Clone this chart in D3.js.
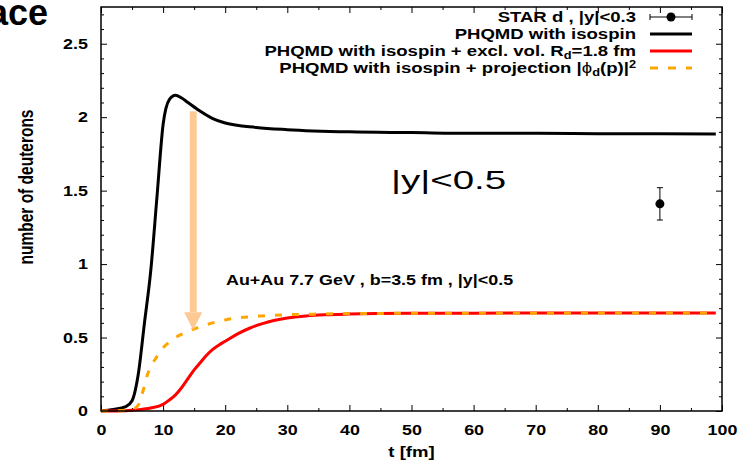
<!DOCTYPE html>
<html>
<head>
<meta charset="utf-8">
<script src="https://cdn.jsdelivr.net/npm/d3@7"></script>
<style>
  body { margin: 0; background: #fff; }
  svg { display: block; }
  text { font-family: "Liberation Sans", Arial, sans-serif; }
</style>
</head>
<body>
<svg id="chart" width="746" height="462"></svg>
<script>
// data
const tBlack = [0, 2, 4, 5, 6, 7, 8, 9, 10, 11, 12, 13, 14, 16, 18, 20, 25, 30, 40, 50, 60, 70, 80, 90, 99];
const nBlack = [0, 0.01, 0.03, 0.07, 0.25, 0.6, 0.95, 1.45, 1.95, 2.12, 2.15, 2.13, 2.1, 2.04, 1.99, 1.96, 1.93, 1.915, 1.9, 1.895, 1.89, 1.89, 1.888, 1.887, 1.885];

const tRed = [0, 4, 6, 8, 10, 11, 12, 13, 14, 15, 16, 17, 18, 19, 20, 22, 24, 26, 28, 30, 33, 36, 40, 50, 60, 80, 99];
const nRed = [0, 0.002, 0.008, 0.02, 0.045, 0.075, 0.11, 0.16, 0.22, 0.28, 0.33, 0.38, 0.42, 0.45, 0.475, 0.525, 0.565, 0.595, 0.618, 0.633, 0.647, 0.655, 0.66, 0.665, 0.666, 0.667, 0.667];

const tProj = [0, 4, 5, 6, 6.5, 7, 7.5, 8, 9, 10, 11, 12, 14, 16, 18, 20, 25, 30, 35, 40, 50, 70, 99];
const nProj = [0, 0.005, 0.01, 0.04, 0.1, 0.17, 0.25, 0.3, 0.37, 0.43, 0.47, 0.5, 0.54, 0.575, 0.6, 0.62, 0.645, 0.655, 0.66, 0.663, 0.665, 0.666, 0.667];

const starT = 90, starN = 1.41, starLo = 1.30, starHi = 1.52;

const xMajor = [0, 10, 20, 30, 40, 50, 60, 70, 80, 90, 100];
const xMinor = [5, 15, 25, 35, 45, 55, 65, 75, 85, 95];
const yMajor = [0, 0.5, 1, 1.5, 2, 2.5];
const yMinor = [0.1, 0.2, 0.3, 0.4, 0.6, 0.7, 0.8, 0.9, 1.1, 1.2, 1.3, 1.4, 1.6, 1.7, 1.8, 1.9, 2.1, 2.2, 2.3, 2.4, 2.6, 2.7];

const arrowT = 14.85, arrowFrom = 2.04, arrowTo = 0.55;

const svg = d3.select("#chart");
const margin = { top: 7, right: 24, bottom: 51, left: 101 };
const W = 746, H = 462;
const sx = 1.28; // the gnuplot texts are drawn wider than tall

const x = d3.scaleLinear().domain([0, 100]).range([margin.left, W - margin.right]);
const y = d3.scaleLinear().domain([0, 2.75]).range([H - margin.bottom, margin.top]);

// cropped heading from the slide
svg.append("text")
  .attr("x", 48).attr("y", 25)
  .attr("text-anchor", "end")
  .attr("font-family", "'Open Sans', sans-serif")
  .attr("font-weight", 700).attr("font-size", 36)
  .text("ace");

// ticks (gnuplot style, pointing inwards, mirrored)
function styleAxis(g) {
  g.select(".domain").remove();
  g.selectAll(".tick line").attr("stroke", "#000").attr("stroke-width", 1);
  g.selectAll(".tick text")
    .attr("font-family", "'Liberation Sans', Arial, sans-serif")
    .attr("font-weight", "bold").attr("font-size", 14).attr("fill", "#000")
    .each(function () {
      const t = d3.select(this);
      t.attr("x", (+t.attr("x") || 0) / sx).attr("transform", `scale(${sx},1)`);
    });
}

svg.append("g").attr("transform", `translate(0,${y(0)})`)
  .call(d3.axisBottom(x).tickValues(xMajor).tickSize(-6).tickPadding(14).tickFormat(d3.format("d")))
  .call(styleAxis);
svg.append("g").attr("transform", `translate(0,${y(0)})`)
  .call(d3.axisBottom(x).tickValues(xMinor).tickSize(-3).tickFormat(""))
  .call(styleAxis);
svg.append("g").attr("transform", `translate(0,${y(2.75)})`)
  .call(d3.axisTop(x).tickValues(xMajor).tickSize(-6).tickFormat(""))
  .call(styleAxis);
svg.append("g").attr("transform", `translate(0,${y(2.75)})`)
  .call(d3.axisTop(x).tickValues(xMinor).tickSize(-3).tickFormat(""))
  .call(styleAxis);

svg.append("g").attr("transform", `translate(${x(0)},0)`)
  .call(d3.axisLeft(y).tickValues(yMajor).tickSize(-6).tickPadding(13).tickFormat(d => d3.format("")(d)))
  .call(styleAxis);
svg.append("g").attr("transform", `translate(${x(0)},0)`)
  .call(d3.axisLeft(y).tickValues(yMinor).tickSize(-3).tickFormat(""))
  .call(styleAxis);
svg.append("g").attr("transform", `translate(${x(100)},0)`)
  .call(d3.axisRight(y).tickValues(yMajor).tickSize(-6).tickFormat(""))
  .call(styleAxis);
svg.append("g").attr("transform", `translate(${x(100)},0)`)
  .call(d3.axisRight(y).tickValues(yMinor).tickSize(-3).tickFormat(""))
  .call(styleAxis);

// axis titles
svg.append("text")
  .attr("transform", `translate(33,187) scale(${sx},1) rotate(-90)`)
  .attr("text-anchor", "middle").attr("font-weight", "bold").attr("font-size", 15.5)
  .text("number of deuterons");
svg.append("text")
  .attr("transform", `translate(${(x(0) + x(100)) / 2},457) scale(${sx},1)`)
  .attr("text-anchor", "middle").attr("font-weight", "bold").attr("font-size", 14.5)
  .text("t [fm]");

// curves
const line = d3.line().x(d => x(d[0])).y(d => y(d[1])).curve(d3.curveMonotoneX);

svg.append("path")
  .datum(d3.zip(tBlack, nBlack))
  .attr("fill", "none").attr("stroke", "#000").attr("stroke-width", 3)
  .attr("d", line);

svg.append("path")
  .datum(d3.zip(tRed, nRed))
  .attr("fill", "none").attr("stroke", "#ff0000").attr("stroke-width", 3)
  .attr("d", line);

svg.append("path")
  .datum(d3.zip(tProj, nProj))
  .attr("fill", "none").attr("stroke", "#ffa500").attr("stroke-width", 3)
  .attr("stroke-dasharray", "7,10")
  .attr("d", line);

// STAR point
svg.append("line")
  .attr("x1", x(starT)).attr("x2", x(starT))
  .attr("y1", y(starLo)).attr("y2", y(starHi))
  .attr("stroke", "#000").attr("stroke-width", 1);
[starLo, starHi].forEach(v => {
  svg.append("line")
    .attr("x1", x(starT) - 3).attr("x2", x(starT) + 3)
    .attr("y1", y(v)).attr("y2", y(v))
    .attr("stroke", "#000").attr("stroke-width", 1);
});
svg.append("circle")
  .attr("cx", x(starT)).attr("cy", y(starN)).attr("r", 4.5).attr("fill", "#000");

// arrow
const ax = x(arrowT), headH = 18, headW = 18;
svg.append("rect")
  .attr("x", ax - 3.5).attr("y", y(arrowFrom))
  .attr("width", 7).attr("height", y(arrowTo) - headH - y(arrowFrom))
  .attr("fill", "#fdc995");
svg.append("path")
  .attr("d", `M${ax - headW / 2},${y(arrowTo) - headH} L${ax + headW / 2},${y(arrowTo) - headH} L${ax},${y(arrowTo)} Z`)
  .attr("fill", "#fdc995");

// annotations
svg.append("text")
  .attr("transform", `translate(226,285) scale(${sx},1)`)
  .attr("font-weight", "bold").attr("font-size", 14)
  .text("Au+Au 7.7 GeV , b=3.5 fm , |y|<0.5");

svg.append("text")
  .attr("transform", "translate(391,189) scale(1.48,1)")
  .attr("font-family", "'Open Sans', sans-serif")
  .attr("font-size", 26)
  .text("|y|<0.5");

// legend
const legX = 636, legY = [17, 34, 51, 68], sx1 = 650, sx2 = 692;
const leg = svg.append("g").attr("font-weight", "bold").attr("font-size", 14.5).attr("text-anchor", "end");
const legText = i => leg.append("text").attr("transform", `translate(${legX},${legY[i] + 5}) scale(${sx},1)`);

legText(0).text("STAR d , |y|<0.3");
legText(1).text("PHQMD with isospin");
const t3 = legText(2);
t3.append("tspan").text("PHQMD with isospin + excl. vol. R");
t3.append("tspan").attr("dy", 3).attr("font-size", 10).text("d");
t3.append("tspan").attr("dy", -3).text("=1.8 fm");
const t4 = legText(3);
t4.append("tspan").text("PHQMD with isospin + projection |");
t4.append("tspan").attr("font-weight", "normal").text("\u03d5");
t4.append("tspan").attr("dy", 3).attr("font-size", 10).text("d");
t4.append("tspan").attr("dy", -3).text("(p)|");
t4.append("tspan").attr("dy", -5).attr("font-size", 10).text("2");

// legend samples
svg.append("line").attr("x1", sx1).attr("x2", sx2).attr("y1", legY[0]).attr("y2", legY[0]).attr("stroke", "#000").attr("stroke-width", 1);
[sx1, sx2].forEach(v => svg.append("line").attr("x1", v).attr("x2", v).attr("y1", legY[0] - 3).attr("y2", legY[0] + 3).attr("stroke", "#000"));
svg.append("circle").attr("cx", (sx1 + sx2) / 2).attr("cy", legY[0]).attr("r", 4.5).attr("fill", "#000");
svg.append("line").attr("x1", sx1).attr("x2", sx2).attr("y1", legY[1]).attr("y2", legY[1]).attr("stroke", "#000").attr("stroke-width", 3);
svg.append("line").attr("x1", sx1).attr("x2", sx2).attr("y1", legY[2]).attr("y2", legY[2]).attr("stroke", "#ff0000").attr("stroke-width", 3);
svg.append("line").attr("x1", sx1).attr("x2", sx2).attr("y1", legY[3]).attr("y2", legY[3]).attr("stroke", "#ffa500").attr("stroke-width", 3).attr("stroke-dasharray", "8,10");

// frame
svg.append("rect")
  .attr("x", x(0)).attr("y", y(2.75))
  .attr("width", x(100) - x(0)).attr("height", y(0) - y(2.75))
  .attr("fill", "none").attr("stroke", "#000").attr("stroke-width", 1.5);
</script>
</body>
</html>
